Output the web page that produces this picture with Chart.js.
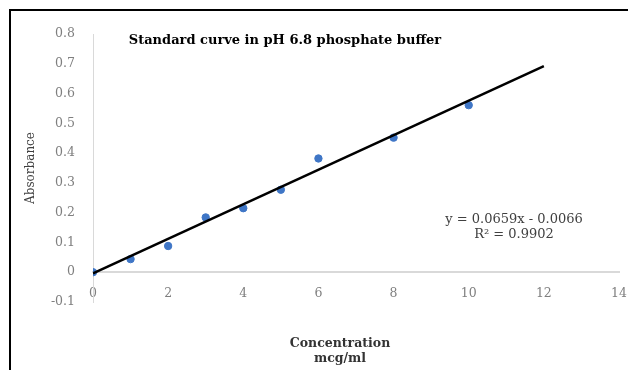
<!DOCTYPE html>
<html>
<head>
<meta charset="utf-8">
<script src="https://cdn.jsdelivr.net/npm/chart.js@4.4.1/dist/chart.umd.min.js"></script>
<style>
    html, body { margin: 0; padding: 0; background: #fff; }
    #wrap { position: relative; width: 628px; height: 370px; overflow: hidden; }
    #frame { position: absolute; left: 9px; top: 9px; width: 700px; height: 400px;
             border-left: 2px solid #000; border-top: 2px solid #000; pointer-events: none; }
    canvas { position: absolute; left: 0; top: 0; }
</style>
</head>
<body>
<div id="wrap">
    <canvas id="chart" width="628" height="370"></canvas>
    <div id="frame"></div>
</div>
<script>
// 標準曲線資料
const concentration = [0, 1, 2, 3, 4, 5, 6, 8, 10];
const absorbance = [0, 0.044, 0.088, 0.184, 0.215, 0.277, 0.382, 0.452, 0.561];

// 趨勢線兩端
const trendX = [0, 12];
const trendY = [-0.004, 0.692];

const xTicks = [0, 2, 4, 6, 8, 10, 12, 14];
const yTicks = [-0.1, 0, 0.1, 0.2, 0.3, 0.4, 0.5, 0.6, 0.7, 0.8];

const titleText = 'Standard curve in pH 6.8 phosphate buffer';
const xTitleLines = ['Concentration', 'mcg/ml'];
const yTitleText = 'Absorbance';
const equationLines = ['y = 0.0659x - 0.0066', 'R\u00B2 = 0.9902'];

const SERIF = '"DejaVu Serif", "Liberation Serif", serif';

// 標題、x 軸標題、方程式文字
const textPlugin = {
    id: 'textPlugin',
    afterDraw(chart) {
        const ctx = chart.ctx;
        ctx.save();
        ctx.textAlign = 'center';
        ctx.textBaseline = 'middle';

        ctx.fillStyle = '#000';
        ctx.font = 'bold 13px ' + SERIF;
        ctx.fillText(titleText, 285, 41);

        ctx.fillStyle = '#333';
        ctx.font = 'bold 12.5px ' + SERIF;
        ctx.fillText(xTitleLines[0], 340, 344);
        ctx.fillText(xTitleLines[1], 340, 359);

        ctx.fillStyle = '#404040';
        ctx.font = '13px ' + SERIF;
        ctx.fillText(equationLines[0], 514, 220);
        ctx.fillText(equationLines[1], 514, 235);
        ctx.restore();
    }
};

new Chart(document.getElementById('chart'), {
    type: 'scatter',
    data: {
        datasets: [
            {
                type: 'line',
                label: 'Linear',
                data: trendX.map((v, i) => ({ x: v, y: trendY[i] })),
                borderColor: '#000',
                borderWidth: 2.5,
                pointRadius: 0,
                fill: false,
                order: 0
            },
            {
                label: 'Absorbance',
                data: concentration.map((v, i) => ({ x: v, y: absorbance[i] })),
                backgroundColor: '#3f76c6',
                borderColor: '#3f76c6',
                pointRadius: 3.7,
                order: 1
            }
        ]
    },
    options: {
        responsive: false,
        animation: false,
        layout: { padding: { left: 10, right: 9, top: 34, bottom: 68 } },
        plugins: {
            legend: { display: false },
            tooltip: { enabled: false }
        },
        scales: {
            x: {
                type: 'linear',
                position: { y: 0 },
                min: 0,
                max: 14,
                afterBuildTicks: scale => { scale.ticks = xTicks.map(v => ({ value: v })); },
                afterFit: scale => { scale.paddingLeft = 0; scale.paddingRight = 0; },
                grid: { display: false, drawTicks: false },
                border: { display: true, color: '#d9d9d9', width: 2 },
                ticks: {
                    padding: 14,
                    color: '#7f7f7f',
                    font: { family: SERIF, size: 12.5 },
                    callback: v => String(v)
                }
            },
            y: {
                type: 'linear',
                min: -0.1,
                max: 0.8,
                afterBuildTicks: scale => { scale.ticks = yTicks.map(v => ({ value: v })); },
                afterFit: scale => {
                    scale.width = 83;
                    scale.paddingTop = 0;
                    scale.paddingBottom = 0;
                },
                grid: { display: false, drawTicks: false },
                border: { display: true, color: '#d9d9d9', width: 1 },
                title: {
                    display: true,
                    text: yTitleText,
                    color: '#404040',
                    font: { family: SERIF, size: 12 },
                    padding: { top: 14, bottom: 0 }
                },
                ticks: {
                    padding: 18,
                    color: '#7f7f7f',
                    font: { family: SERIF, size: 12.5 },
                    callback: v => {
                        const r = Math.round(v * 10) / 10;
                        return r === 0 ? '0' : r.toFixed(1);
                    }
                }
            }
        }
    },
    plugins: [textPlugin]
});
</script>
</body>
</html>
